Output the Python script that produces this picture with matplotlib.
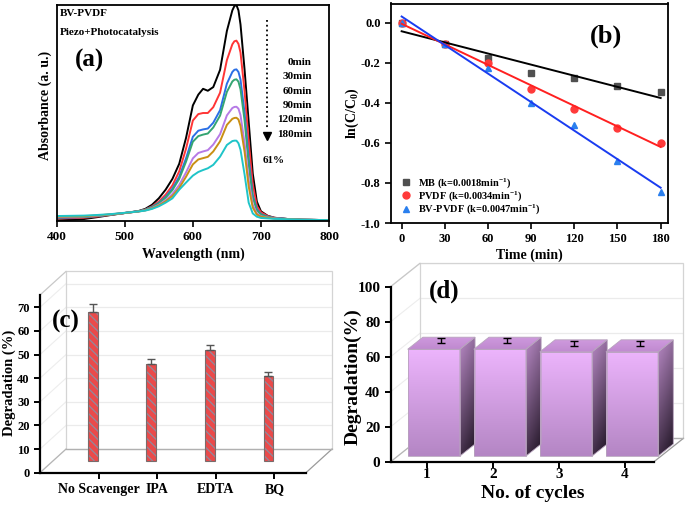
import numpy as np
import matplotlib.pyplot as plt
from matplotlib.patches import Polygon, Rectangle
from matplotlib.colors import LinearSegmentedColormap

plt.rcParams['font.family'] = 'Liberation Serif'
plt.rcParams['font.weight'] = 'bold'
plt.rcParams['mathtext.fontset'] = 'custom'
plt.rcParams['mathtext.rm'] = 'Liberation Serif:bold'
plt.rcParams['mathtext.it'] = 'Liberation Serif:bold:italic'
plt.rcParams['mathtext.bf'] = 'Liberation Serif:bold'
plt.rcParams['axes.linewidth'] = 1.3
plt.rcParams['hatch.linewidth'] = 0.9

# ---------------- data ----------------
# (a) absorbance spectra
wavelength = [400, 420, 440, 460, 480, 500, 520, 530, 540, 550, 560, 570, 580, 590, 600,
              608, 615, 622, 630, 640, 650, 658, 661, 664, 667, 670, 676, 682, 688, 694,
              700, 710, 720, 740, 760, 780, 800]
abs_black = [0.003, 0.005, 0.009, 0.018, 0.028, 0.037, 0.046, 0.056, 0.075, 0.105,
             0.145, 0.195, 0.265, 0.385, 0.535, 0.585, 0.612, 0.603, 0.62, 0.70,
             0.88, 0.975, 0.995, 1.0, 0.975, 0.91, 0.70, 0.46, 0.22, 0.09,
             0.045, 0.024, 0.015, 0.009, 0.006, 0.005, 0.004]
abs_red = [0.012, 0.013, 0.015, 0.021, 0.029, 0.037, 0.045, 0.053, 0.068, 0.09,
           0.122, 0.165, 0.23, 0.335, 0.465, 0.495, 0.50, 0.50, 0.527, 0.594,
           0.745, 0.818, 0.832, 0.835, 0.82, 0.78, 0.60, 0.37, 0.17, 0.07,
           0.04, 0.023, 0.015, 0.009, 0.006, 0.005, 0.004]
abs_blue = [0.015, 0.016, 0.018, 0.023, 0.03, 0.037, 0.045, 0.052, 0.065, 0.084,
            0.112, 0.15, 0.205, 0.29, 0.39, 0.418, 0.424, 0.428, 0.455, 0.513,
            0.636, 0.69, 0.70, 0.702, 0.69, 0.655, 0.50, 0.29, 0.12, 0.055,
            0.032, 0.02, 0.014, 0.009, 0.006, 0.005, 0.004]
abs_green = [0.017, 0.018, 0.019, 0.024, 0.03, 0.037, 0.045, 0.052, 0.064, 0.082,
             0.108, 0.143, 0.195, 0.275, 0.367, 0.393, 0.40, 0.405, 0.433, 0.488,
             0.598, 0.646, 0.654, 0.656, 0.645, 0.61, 0.465, 0.265, 0.11, 0.05,
             0.03, 0.019, 0.013, 0.009, 0.006, 0.005, 0.004]
abs_violet = [0.019, 0.02, 0.021, 0.025, 0.031, 0.037, 0.044, 0.05, 0.06, 0.075,
              0.096, 0.125, 0.167, 0.225, 0.29, 0.315, 0.322, 0.328, 0.354, 0.402,
              0.489, 0.523, 0.528, 0.529, 0.52, 0.49, 0.36, 0.19, 0.075, 0.035,
              0.022, 0.016, 0.012, 0.008, 0.006, 0.005, 0.004]
abs_orange = [0.02, 0.021, 0.022, 0.026, 0.031, 0.037, 0.044, 0.049, 0.058, 0.072,
              0.091, 0.116, 0.153, 0.205, 0.262, 0.285, 0.291, 0.297, 0.322, 0.369,
              0.445, 0.473, 0.477, 0.478, 0.47, 0.44, 0.32, 0.16, 0.062, 0.03,
              0.02, 0.015, 0.011, 0.008, 0.006, 0.005, 0.004]
abs_cyan = [0.023, 0.024, 0.025, 0.028, 0.032, 0.038, 0.044, 0.048, 0.056, 0.068,
            0.085, 0.105, 0.145, 0.178, 0.21, 0.227, 0.236, 0.244, 0.26, 0.298,
            0.352, 0.37, 0.372, 0.372, 0.36, 0.33, 0.215, 0.085, 0.035, 0.02,
            0.014, 0.012, 0.01, 0.008, 0.006, 0.005, 0.004]
spectra = [abs_black, abs_red, abs_blue, abs_green, abs_violet, abs_orange, abs_cyan]
spectra_colors = ['black', '#ff3535', '#2a6fe6', '#34a572', '#b67ae6', '#c98f14', '#1fc4c8']
time_labels = ['0min', '30min', '60min', '90min', '120min', '180min']

# (b) kinetics
time_min = [0, 30, 60, 90, 120, 150, 180]
ln_mb = [0.0, -0.105, -0.175, -0.25, -0.275, -0.315, -0.345]
ln_pvdf = [0.0, -0.105, -0.20, -0.33, -0.43, -0.525, -0.60]
ln_bvpvdf = [0.0, -0.105, -0.225, -0.40, -0.51, -0.69, -0.845]
kin_labels = [r'MB (k=0.0018min$^{-1}$)', r'PVDF (k=0.0034min$^{-1}$)',
              r'BV-PVDF (k=0.0047min$^{-1}$)']

# (c) scavengers
scavengers = ['No Scavenger', 'IPA', 'EDTA', 'BQ']
scav_deg = [63, 41, 47, 36]
scav_err = [3.2, 2.0, 2.0, 1.7]

# (d) cycles
cycles = [1, 2, 3, 4]
cycle_deg = [61, 61, 59.5, 59.5]
cycle_err = [3.0, 3.0, 3.0, 3.0]

# ---------------- figure ----------------
W, H = 685, 508
fig = plt.figure(figsize=(W / 100, H / 100), dpi=100)


def px_axes(l, t, r, b):
    return fig.add_axes([l / W, 1 - b / H, (r - l) / W, (b - t) / H])


def ftext(x, y, s, **kw):
    fig.text(x / W, 1 - y / H, s, **kw)


# ---- (a) ----
axa = px_axes(56.7, 5, 329, 221)
for ys, c in zip(spectra, spectra_colors):
    axa.plot(wavelength, ys, color=c, lw=1.4)
axa.set_xlim(400, 800)
axa.set_ylim(0, 1.0)
axa.set_xticks([400, 500, 600, 700, 800])
axa.set_yticks([])
axa.tick_params(axis='x', direction='out', length=4, width=1.2, labelsize=9.5)
axa.plot([708.4, 708.4], [0.93, 0.42], ls=':', color='black', lw=1.3)
axa.plot(708.4, 0.394, marker='v', ms=6, color='black')
ftext(60, 13.5, 'BV-PVDF', fontsize=8, va='center')
ftext(60, 32.5, 'Piezo+Photocatalysis', fontsize=8, va='center')
ftext(90, 60, '(a)', fontsize=18, ha='center', va='center')
for i, lab in enumerate(time_labels):
    ftext(312, 62.3 + i * 14.4, lab, fontsize=8, ha='right', va='center')
ftext(263, 160.7, '61%', fontsize=8, va='center')
ftext(45, 105, 'Absorbance (a. u.)', fontsize=10, rotation=90, ha='center', va='center')
ftext(193, 254, 'Wavelength (nm)', fontsize=10, ha='center', va='center')

# ---- (b) ----
axb = px_axes(391, 3.5, 668, 223)
kin_sets = [ln_mb, ln_pvdf, ln_bvpvdf]
line_cols = ['black', '#ff2020', '#1a3cf0']
mark_cols = ['#505050', '#ff3a3a', '#2a7fee']
marks = ['s', 'o', '^']
tt = np.array([0, 180])
for vals, lc, mc, mk, lab in zip(kin_sets, line_cols, mark_cols, marks, kin_labels):
    axb.plot(time_min, vals, ls='none', marker=mk, ms=5, color=mc, label=lab, zorder=2)
    fit = np.polyfit(time_min, vals, 1)
    axb.plot(tt, np.polyval(fit, tt), color=lc, lw=1.4, zorder=3)
axb.set_xlim(-7.4, 185.1)
axb.set_ylim(-1.0, 0.096)
axb.set_xticks(time_min)
axb.set_yticks([-1.0, -0.8, -0.6, -0.4, -0.2, 0.0])
axb.yaxis.set_major_formatter(plt.FormatStrFormatter('%.1f'))
axb.tick_params(direction='out', length=4, width=1.2, labelsize=9)
axb.legend(loc='lower left', bbox_to_anchor=(0.035, 0.03), frameon=False, fontsize=7.5,
           handlelength=1.0, handletextpad=0.7, labelspacing=-0.05, borderpad=0,
           borderaxespad=0)
ftext(606, 36, '(b)', fontsize=19, ha='center', va='center')
ftext(352, 113, r'ln(C/C$_0$)', fontsize=10, rotation=90, ha='center', va='center')
ftext(529.5, 255, 'Time (min)', fontsize=10, ha='center', va='center')


def frame_3d(ax, x0, x1, ytop, ddx, ddy, grid_vals):
    wall = '#d4d4d4'
    ax.add_patch(Rectangle((x0 + ddx, ddy), x1 - x0, ytop, fill=False,
                           edgecolor=wall, lw=0.9, clip_on=False, zorder=0.5))
    for v in grid_vals:
        ax.plot([x0 + ddx, x1 + ddx], [v + ddy, v + ddy], color='#ebebeb', lw=0.9, zorder=0.4)
        ax.plot([x0, x0 + ddx], [v, v + ddy], color='#ededed', lw=0.8, zorder=0.4)
    ax.plot([x0, x0 + ddx], [0, ddy], color='#b5b5b5', lw=0.9, zorder=0.6, clip_on=False)
    ax.plot([x1, x1 + ddx], [0, ddy], color='#9a9a9a', lw=0.9, zorder=0.6, clip_on=False)
    ax.plot([x0 + ddx, x1 + ddx], [ddy, ddy], color='#b0b0b0', lw=0.9, zorder=0.6,
            clip_on=False)
    ax.plot([x0, x0 + ddx], [ytop, ytop + ddy], color='#c8c8c8', lw=0.9, zorder=0.6,
            clip_on=False)
    for s in ['top', 'right']:
        ax.spines[s].set_visible(False)
    ax.spines['left'].set_bounds(0, ytop)
    ax.spines['bottom'].set_bounds(x0, x1)
    ax.spines['left'].set_linewidth(1.6)
    ax.spines['bottom'].set_linewidth(1.6)


# ---- (c) ----
axc = px_axes(40, 270.7, 332, 472.7)
c_ddx, c_ddy = 0.444, 10
frame_3d(axc, 0, 4.54, 75.2, c_ddx, c_ddy, range(0, 80, 10))
pos_c = np.arange(1, len(scavengers) + 1)
bx = pos_c - 0.1
axc.bar(bx, scav_deg, width=0.17, bottom=c_ddy / 2, color='#ea4a4a', edgecolor='#8f8a9c',
        hatch='\\\\\\\\', lw=0, zorder=2)
axc.bar(bx, scav_deg, width=0.17, bottom=c_ddy / 2, fill=False, edgecolor='#7a6b6b', lw=0.8,
        zorder=2.5)
axc.errorbar(bx, np.array(scav_deg) + c_ddy / 2, yerr=[np.zeros(4), scav_err], fmt='none',
             ecolor='#555555', elinewidth=1, capsize=3, capthick=1, zorder=3)
axc.set_xlim(0, 4.984)
axc.set_ylim(0, 85.5)
axc.set_xticks(pos_c)
axc.set_xticklabels(scavengers)
axc.set_yticks(range(0, 80, 10))
axc.tick_params(direction='out', length=4, width=1.4)
axc.tick_params(axis='y', labelsize=9)
axc.tick_params(axis='x', labelsize=10, pad=3.5)
ftext(66, 321.7, '(c)', fontsize=18, ha='center', va='center')
ftext(9, 383, 'Degradation (%)', fontsize=10.5, rotation=90, ha='center', va='center')

# ---- (d) ----
axd = px_axes(390.7, 263.3, 683.3, 461.7)
d_x0, d_x1, d_ddx, d_ddy = 0.455, 4.44, 0.443, 13.3
frame_3d(axd, d_x0, d_x1, 100, d_ddx, d_ddy, range(0, 120, 20))


def grad_face(ax, verts, c_light, c_dark, z, side=False):
    poly = Polygon(verts, closed=True, facecolor='none', edgecolor='#b7a3bd', lw=0.6,
                   zorder=z + 0.1)
    ax.add_patch(poly)
    xs = [v[0] for v in verts]
    ys = [v[1] for v in verts]
    n = 64
    yy, xx = np.mgrid[0:1:n * 1j, 0:1:n * 1j]
    g = 0.75 * yy + 0.25 * (1 - xx) if side else yy
    cmap = LinearSegmentedColormap.from_list('face', [c_dark, c_light])
    im = ax.imshow(g, cmap=cmap, origin='lower', extent=(min(xs), max(xs), min(ys), max(ys)),
                   aspect='auto', interpolation='bilinear', zorder=z, vmin=0, vmax=1)
    im.set_clip_path(poly)


bw = 0.79
f0, f1 = 0.24, 0.76
for xc, v in zip(cycles, cycle_deg):
    xl, xr = xc - bw / 2, xc + bw / 2
    ax0, ay0 = f0 * d_ddx, f0 * d_ddy
    ax1, ay1 = f1 * d_ddx, f1 * d_ddy
    front = [(xl + ax0, ay0), (xr + ax0, ay0), (xr + ax0, ay0 + v), (xl + ax0, ay0 + v)]
    top = [(xl + ax0, ay0 + v), (xr + ax0, ay0 + v), (xr + ax1, ay1 + v), (xl + ax1, ay1 + v)]
    side = [(xr + ax0, ay0), (xr + ax1, ay1), (xr + ax1, ay1 + v), (xr + ax0, ay0 + v)]
    grad_face(axd, front, '#ecb4fc', '#b486c4', 2)
    grad_face(axd, top, '#cf9ade', '#c08ad0', 2)
    grad_face(axd, side, '#b98ac6', '#1c1220', 2, side=True)
axd.errorbar(np.array(cycles) + d_ddx / 2, np.array(cycle_deg) + d_ddy / 2,
             yerr=[np.zeros(4), cycle_err], fmt='none', ecolor='black', elinewidth=1,
             capsize=3, capthick=1, zorder=4)
axd.set_xlim(d_x0, d_x1 + d_ddx)
axd.set_ylim(0, 113.3)
axd.set_xticks(cycles)
axd.set_yticks(range(0, 120, 20))
axd.tick_params(direction='out', length=4, width=1.4, labelsize=11)
axd.tick_params(axis='x', pad=0.5)
ftext(444, 291.7, '(d)', fontsize=18, ha='center', va='center')
ftext(353, 376.7, 'Degradation(%)', fontsize=14, rotation=90, ha='center', va='center')
ftext(533, 493, 'No. of cycles', fontsize=14, ha='center', va='center')

fig.savefig('out.png', dpi=100)
